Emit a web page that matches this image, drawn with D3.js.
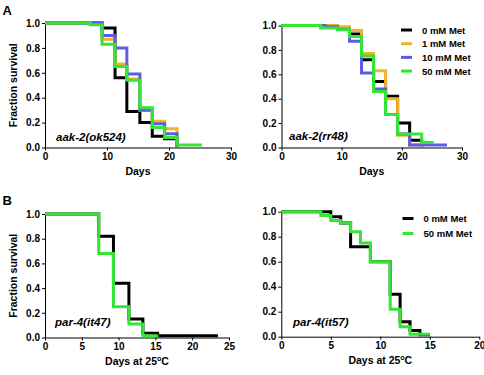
<!DOCTYPE html>
<html>
<head>
<meta charset="utf-8">
<script src="https://cdn.jsdelivr.net/npm/d3@7"></script>
<style>
    body { margin: 0; background: #fff; }
    svg { display: block; font-family: "Liberation Sans", Arial, sans-serif; }
    .axis text { font-weight: bold; font-size: 10px; fill: #000; }
    .axis path, .axis line { stroke: #000; }
</style>
</head>
<body>
<div id="chart"></div>
<script>

// series labels and colours
const metLabels = ["0 mM Met", "1 mM Met", "10 mM Met", "50 mM Met"];
const metColors = ["#000000", "#f2b12e", "#5c5ce6", "#33e633"];

// [day, fraction surviving]
const ok524_0 = [[0,1],[9.2,0.96],[11.3,0.56],[13.2,0.29],[15.3,0.20],[17.3,0.09],[19.3,0.07],[21.3,0]];
const ok524_1 = [[0,1],[7.3,0.99],[9.2,0.87],[11.3,0.67],[13.2,0.55],[15.3,0.30],[17.3,0.21],[19.3,0.15],[21.3,0]];
const ok524_10 = [[0,1],[9.2,0.90],[11.3,0.80],[13.2,0.59],[15.3,0.30],[17.3,0.19],[19.3,0.11],[21.3,0]];
const ok524_50 = [[0,1],[7.3,0.985],[9.2,0.83],[11.3,0.65],[13.2,0.54],[15.3,0.32],[17.3,0.16],[19.3,0.08],[21.3,0.02],[25.3,0.02]];

const rr48_0 = [[0,1],[9.3,0.98],[11.3,0.93],[13.3,0.72],[15.3,0.54],[17.3,0.42],[19.3,0.20],[21.3,0.06],[23.3,0]];
const rr48_1 = [[0,1],[9.3,0.99],[11.3,0.96],[13.3,0.77],[15.3,0.63],[17.3,0.40],[19.3,0.10],[21.3,0.02],[23.3,0]];
const rr48_10 = [[0,1],[7.3,0.99],[9.3,0.97],[11.3,0.87],[13.3,0.61],[15.3,0.48],[17.3,0.27],[19.3,0.11],[21.3,0.02],[27.5,0.02]];
const rr48_50 = [[0,1],[6.5,0.98],[9.3,0.965],[11.3,0.91],[13.3,0.75],[15.3,0.46],[17.3,0.27],[19.3,0.11],[23.3,0.04],[25.3,0.04]];

const it47_0 = [[0,1],[7.3,0.82],[9.3,0.44],[11.4,0.15],[13.3,0.035],[15.3,0.015],[23.5,0.015]];
const it47_50 = [[0,1],[7.3,0.68],[9.3,0.25],[11.4,0.11],[13.3,0.015],[15.4,0.015]];

const it57_0 = [[0,1],[5,0.96],[6,0.91],[7,0.72],[9,0.60],[11,0.34],[12,0.12],[13,0.05],[14,0.015],[15,0.015]];
const it57_50 = [[0,1],[4,0.97],[5,0.93],[6,0.91],[7,0.84],[8,0.75],[9,0.60],[11,0.22],[12,0.08],[13,0.02],[15,0.02]];

const yTicks = [0, 0.2, 0.4, 0.6, 0.8, 1.0];
const ticks30 = [0, 10, 20, 30];
const ticks25 = [0, 5, 10, 15, 20, 25];
const ticks20 = [0, 5, 10, 15, 20];

const width = 484, height = 375;

const svg = d3.select("#chart").append("svg")
    .attr("width", width)
    .attr("height", height);

const panels = [
    {left: 45, right: 231, top: 23, bottom: 147.5, xMax: 30, xTicks: ticks30, xTitle: "Days",
     strain: "aak-2(ok524)", sx: 56, sy: 141, yTitle: true,
     series: [ok524_0, ok524_1, ok524_10, ok524_50], colors: metColors},
    {left: 281.5, right: 462, top: 25.5, bottom: 147.5, xMax: 30, xTicks: ticks30, xTitle: "Days",
     strain: "aak-2(rr48)", sx: 289, sy: 140, yTitle: false,
     series: [rr48_0, rr48_1, rr48_10, rr48_50], colors: metColors,
     legend: {x: 401, y: 30, step: 13.7, labels: metLabels}},
    {left: 45, right: 229, top: 214, bottom: 337.5, xMax: 25, xTicks: ticks25, xTitle: "Days at 25",
     strain: "par-4(it47)", sx: 55, sy: 326, yTitle: true,
     series: [it47_0, it47_50], colors: [metColors[0], metColors[3]]},
    {left: 281.3, right: 479.3, top: 211.7, bottom: 336.7, xMax: 20, xTicks: ticks20, xTitle: "Days at 25",
     strain: "par-4(it57)", sx: 293, sy: 326, yTitle: false,
     series: [it57_0, it57_50], colors: [metColors[0], metColors[3]],
     legend: {x: 402.5, y: 218.5, step: 15, labels: [metLabels[0], metLabels[3]]}}
];

panels.forEach(p => drawPanel(p));

// panel letters
svg.append("text").attr("x", 2.5).attr("y", 15).style("font-weight", "bold").style("font-size", "13px").text("A");
svg.append("text").attr("x", 2.5).attr("y", 204.5).style("font-weight", "bold").style("font-size", "13px").text("B");

function drawPanel(p) {
    let x = d3.scaleLinear().domain([0, p.xMax]).range([p.left, p.right]);
    let y = d3.scaleLinear().domain([0, 1]).range([p.bottom, p.top]);

    let g = svg.append("g");

    g.append("g")
        .attr("class", "axis")
        .attr("transform", "translate(0," + p.bottom + ")")
        .call(d3.axisBottom(x).tickValues(p.xTicks).tickSize(3).tickSizeOuter(0).tickPadding(2));

    g.append("g")
        .attr("class", "axis")
        .attr("transform", "translate(" + p.left + ",0)")
        .call(d3.axisLeft(y).tickValues(yTicks).tickFormat(d3.format(".1f")).tickSize(3).tickSizeOuter(0).tickPadding(2));

    // x title
    let xt = g.append("text")
        .attr("x", (p.left + p.right) / 2)
        .attr("y", p.bottom + 27.5)
        .attr("text-anchor", "middle")
        .style("font-weight", "bold")
        .style("font-size", "10.5px")
        .text(p.xTitle);
    if (p.xTitle !== "Days") {
        xt.append("tspan").attr("dy", -4).style("font-size", "7px").text("o");
        xt.append("tspan").attr("dy", 4).text("C");
    }

    // y title
    if (p.yTitle) {
        g.append("text")
            .attr("transform", "translate(16.5," + (p.top + p.bottom) / 2 + ") rotate(-90)")
            .attr("text-anchor", "middle")
            .style("font-weight", "bold")
            .style("font-size", "10.5px")
            .text("Fraction survival");
    }

    // survival curves
    let line = d3.line()
        .x(d => x(d[0]))
        .y(d => y(d[1]))
        .curve(d3.curveStepAfter);

    p.series.forEach((s, i) => {
        g.append("path")
            .attr("d", line(s))
            .attr("fill", "none")
            .attr("stroke", p.colors[i])
            .attr("stroke-width", 3);
    });

    // strain name
    g.append("text")
        .attr("x", p.sx)
        .attr("y", p.sy)
        .style("font-style", "italic")
        .style("font-weight", "bold")
        .style("font-size", "11.5px")
        .text(p.strain);

    // legend
    if (p.legend) {
        p.legend.labels.forEach((lab, i) => {
            let ly = p.legend.y + i * p.legend.step;
            g.append("line")
                .attr("x1", p.legend.x).attr("x2", p.legend.x + 11)
                .attr("y1", ly).attr("y2", ly)
                .attr("stroke", p.colors[i])
                .attr("stroke-width", 3);
            g.append("text")
                .attr("x", p.legend.x + 21)
                .attr("y", ly + 3.5)
                .style("font-weight", "bold")
                .style("font-size", "9.5px")
                .text(lab);
        });
    }
}
</script>
</body>
</html>
